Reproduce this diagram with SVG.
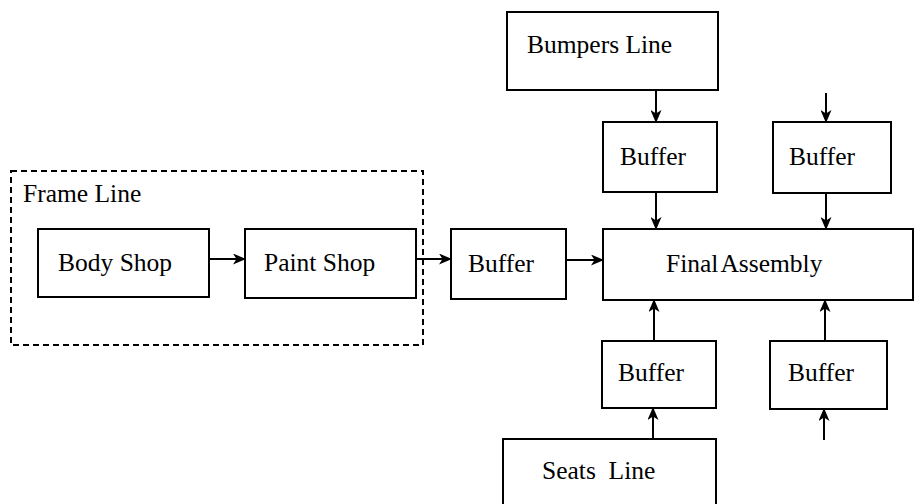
<svg xmlns="http://www.w3.org/2000/svg" width="914" height="504" viewBox="0 0 914 504">
<style>
.box{fill:none;stroke:#000;stroke-width:2}
.dash{fill:none;stroke:#000;stroke-width:2;stroke-dasharray:6,4}
.t{font-family:"Liberation Serif","Times New Roman",serif;font-size:25.5px;fill:#000}
.c line{stroke:#000;stroke-width:2;marker-end:url(#ah)}
</style>
<defs>
<marker id="ah" viewBox="0 0 13 11" refX="12" refY="5.5" markerWidth="13" markerHeight="11" markerUnits="userSpaceOnUse" orient="auto">
<path d="M0,0 L13,5.5 L0,11 L3.5,5.5 z" fill="#000"/>
</marker>
</defs>
<rect width="914" height="504" fill="#fff"/>
<g id="frame-line">
<rect class="dash" x="11" y="171" width="412" height="174"/>
<text class="t" x="23" y="202">Frame Line</text>
</g>
<g id="body-shop">
<rect class="box" x="38" y="229" width="171" height="68"/>
<text class="t" x="58" y="271">Body Shop</text>
</g>
<g id="paint-shop">
<rect class="box" x="245" y="229" width="171" height="69"/>
<text class="t" x="264" y="271">Paint Shop</text>
</g>
<g id="buffer-main">
<rect class="box" x="451" y="229" width="115" height="70"/>
<text class="t" x="468" y="272">Buffer</text>
</g>
<g id="final-assembly">
<rect class="box" x="603" y="229" width="310" height="71"/>
<text class="t" x="666" y="272" word-spacing="-3">Final Assembly</text>
</g>
<g id="bumpers-line">
<rect class="box" x="507" y="12" width="211" height="78"/>
<text class="t" x="527" y="53">Bumpers Line</text>
</g>
<g id="buffer-top-left">
<rect class="box" x="603" y="122" width="114" height="70"/>
<text class="t" x="620" y="165">Buffer</text>
</g>
<g id="buffer-top-right">
<rect class="box" x="773" y="122" width="118" height="71"/>
<text class="t" x="789" y="165">Buffer</text>
</g>
<g id="buffer-bottom-left">
<rect class="box" x="602" y="341" width="114" height="67"/>
<text class="t" x="618" y="381">Buffer</text>
</g>
<g id="buffer-bottom-right">
<rect class="box" x="770" y="341" width="117" height="68"/>
<text class="t" x="788" y="381">Buffer</text>
</g>
<g id="seats-line">
<rect class="box" x="503" y="439" width="213" height="80"/>
<text class="t" x="542" y="479" xml:space="preserve">Seats  Line</text>
</g>
<g id="connectors" class="c">
<line x1="209" y1="259" x2="245" y2="259"/>
<line x1="416" y1="259" x2="451" y2="259"/>
<line x1="566" y1="260" x2="603" y2="260"/>
<line x1="656" y1="90" x2="656" y2="122"/>
<line x1="826" y1="93" x2="826" y2="122"/>
<line x1="656" y1="192" x2="656" y2="229"/>
<line x1="826" y1="193" x2="826" y2="229"/>
<line x1="654" y1="341" x2="654" y2="300"/>
<line x1="825" y1="341" x2="825" y2="300"/>
<line x1="653" y1="439" x2="653" y2="408"/>
<line x1="824" y1="440" x2="824" y2="409"/>
</g>
</svg>
